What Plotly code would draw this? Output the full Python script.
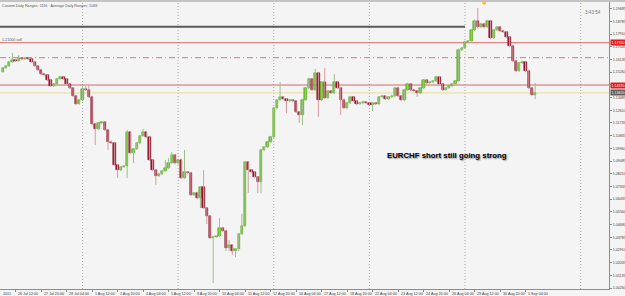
import plotly.graph_objects as go

# ---------------- data (EURCHF, H4 bars; bar 0 = Mon 25 Jul 2011 00:00) ----------------
bar_index = list(range(5, 173))

opens = [
    1.1528, 1.1555, 1.1569, 1.1597, 1.1611, 1.1604, 1.1625, 1.1618, 1.1625, 1.1618,
    1.1597, 1.1569, 1.1542, 1.1514, 1.1507, 1.1472, 1.1430, 1.1444, 1.1479, 1.1493,
    1.1479, 1.1444, 1.1416, 1.1361, 1.1305, 1.1333, 1.1409, 1.1403, 1.1354, 1.1166,
    1.1131, 1.1173, 1.1180, 1.1124, 1.1041, 1.1034, 1.0881, 1.0846, 1.0867, 1.0874,
    1.1111, 1.0965, 1.0992, 1.1034, 1.1083, 1.1111, 1.1076, 1.0916, 1.0846, 1.0805,
    1.0819, 1.0840, 1.0860, 1.0895, 1.0951, 1.0895, 1.0916, 1.0791, 1.0833, 1.0826,
    1.0673, 1.0687, 1.0652, 1.0728, 1.0582, 1.0527, 1.0374, 1.0381, 1.0388, 1.0443,
    1.0422, 1.0304, 1.0325, 1.0284, 1.0297, 1.0402, 1.0457, 1.0902, 1.0846, 1.0833,
    1.0798, 1.0763, 1.0985, 1.1006, 1.1041, 1.1076, 1.1277, 1.1333, 1.1354, 1.1340,
    1.1326, 1.1333, 1.1326, 1.1250, 1.1229, 1.1333, 1.1416, 1.1479, 1.1403, 1.1521,
    1.1333, 1.1458, 1.1347, 1.1396, 1.1382, 1.1458, 1.1416, 1.1333, 1.1277, 1.1312,
    1.1354, 1.1326, 1.1305, 1.1312, 1.1319, 1.1312, 1.1298, 1.1312, 1.1305, 1.1354,
    1.1361, 1.1340, 1.1354, 1.1361, 1.1416, 1.1361, 1.1333, 1.1403, 1.1444, 1.1403,
    1.1396, 1.1382, 1.1416, 1.1472, 1.1451, 1.1458, 1.1465, 1.1493, 1.1444, 1.1403,
    1.1416, 1.1430, 1.1444, 1.1465, 1.1681, 1.1694, 1.1736, 1.1743, 1.1820, 1.1882,
    1.1840, 1.1861, 1.1840, 1.1882, 1.1764, 1.1820, 1.1840, 1.1813, 1.1806, 1.1771,
    1.1708, 1.1604, 1.1535, 1.1590, 1.1597, 1.1535, 1.1416, 1.1368,
]

closes = [
    1.1555, 1.1569, 1.1597, 1.1611, 1.1604, 1.1625, 1.1618, 1.1625, 1.1618, 1.1597,
    1.1569, 1.1542, 1.1514, 1.1507, 1.1472, 1.1430, 1.1444, 1.1479, 1.1493, 1.1479,
    1.1444, 1.1416, 1.1361, 1.1305, 1.1333, 1.1409, 1.1403, 1.1354, 1.1166, 1.1131,
    1.1173, 1.1180, 1.1124, 1.1041, 1.1034, 1.0881, 1.0846, 1.0867, 1.0874, 1.1111,
    1.0965, 1.0992, 1.1034, 1.1083, 1.1111, 1.1076, 1.0916, 1.0846, 1.0805, 1.0819,
    1.0840, 1.0860, 1.0895, 1.0951, 1.0895, 1.0916, 1.0791, 1.0833, 1.0826, 1.0673,
    1.0687, 1.0652, 1.0728, 1.0582, 1.0527, 1.0374, 1.0381, 1.0388, 1.0443, 1.0422,
    1.0304, 1.0325, 1.0284, 1.0297, 1.0402, 1.0457, 1.0902, 1.0846, 1.0833, 1.0798,
    1.0763, 1.0985, 1.1006, 1.1041, 1.1076, 1.1277, 1.1333, 1.1354, 1.1340, 1.1326,
    1.1333, 1.1326, 1.1250, 1.1229, 1.1333, 1.1416, 1.1479, 1.1403, 1.1521, 1.1333,
    1.1458, 1.1347, 1.1396, 1.1382, 1.1458, 1.1416, 1.1333, 1.1277, 1.1312, 1.1354,
    1.1326, 1.1305, 1.1312, 1.1319, 1.1312, 1.1298, 1.1312, 1.1305, 1.1354, 1.1361,
    1.1340, 1.1354, 1.1361, 1.1416, 1.1361, 1.1333, 1.1403, 1.1444, 1.1403, 1.1396,
    1.1382, 1.1416, 1.1472, 1.1451, 1.1458, 1.1465, 1.1493, 1.1444, 1.1403, 1.1416,
    1.1430, 1.1444, 1.1465, 1.1681, 1.1694, 1.1736, 1.1743, 1.1820, 1.1882, 1.1840,
    1.1861, 1.1840, 1.1882, 1.1764, 1.1820, 1.1840, 1.1813, 1.1806, 1.1771, 1.1708,
    1.1604, 1.1535, 1.1590, 1.1597, 1.1535, 1.1416, 1.1368, 1.1382,
]

# wick lengths beyond the body, in pips
upper_wick_pips = [
    5, 7, 6, 49, 8, 21, 5, 6, 7, 5,
    6, 8, 5, 7, 6, 9, 5, 6, 8, 6,
    7, 5, 6, 8, 6, 28, 21, 35, 7, 6,
    8, 6, 5, 7, 9, 6, 8, 5, 6, 14,
    6, 7, 9, 5, 21, 6, 8, 5, 7, 6,
    8, 56, 35, 21, 7, 6, 9, 154, 6, 7,
    5, 8, 6, 118, 7, 6, 9, 5, 70, 6,
    8, 35, 6, 7, 5, 84, 6, 8, 7, 6,
    5, 9, 6, 7, 8, 6, 5, 104, 7, 6,
    8, 6, 5, 7, 9, 6, 8, 6, 28, 7,
    6, 97, 8, 5, 56, 7, 6, 9, 5, 8,
    6, 7, 5, 8, 6, 9, 7, 5, 6, 8,
    7, 6, 9, 5, 8, 6, 7, 9, 6, 5,
    8, 6, 7, 5, 9, 6, 8, 7, 6, 5,
    8, 6, 7, 10, 6, 8, 5, 7, 9, 90,
    7, 6, 8, 5, 9, 6, 7, 8, 5, 6,
    8, 7, 6, 9, 5, 8, 6, 70,
]

lower_wick_pips = [
    6, 5, 8, 6, 7, 5, 9, 6, 8, 5,
    7, 6, 8, 5, 9, 6, 7, 8, 5, 6,
    8, 7, 6, 9, 5, 8, 6, 7, 9, 111,
    6, 8, 5, 56, 7, 6, 56, 8, 5, 84,
    7, 70, 6, 8, 5, 9, 6, 7, 63, 6,
    8, 5, 7, 6, 9, 8, 6, 5, 7, 8,
    6, 9, 70, 5, 56, 7, 313, 6, 8, 5,
    21, 21, 28, 42, 14, 7, 6, 160, 8, 5,
    77, 77, 6, 8, 5, 7, 9, 6, 8, 84,
    7, 6, 8, 56, 70, 5, 8, 6, 7, 118,
    6, 8, 5, 7, 9, 6, 104, 8, 5, 7,
    6, 9, 5, 8, 7, 6, 42, 8, 5, 6,
    8, 7, 6, 9, 5, 8, 6, 7, 9, 5,
    28, 7, 6, 8, 5, 9, 6, 7, 8, 6,
    5, 8, 7, 6, 9, 5, 8, 6, 7, 8,
    6, 9, 5, 8, 7, 6, 8, 5, 9, 6,
    7, 8, 6, 5, 9, 7, 6, 28,
]

x_tick_bars = [9, 17, 25, 33, 41, 49, 57, 65, 73, 81, 89, 97, 105, 113, 121,
               129, 137, 145, 153, 161, 169]
x_tick_labels = ["26 Jul 12:00", "27 Jul 20:00", "29 Jul 04:00",
                 "1 Aug 12:00", "2 Aug 20:00", "4 Aug 04:00", "5 Aug 12:00",
                 "8 Aug 20:00", "10 Aug 04:00", "11 Aug 12:00", "12 Aug 20:00",
                 "16 Aug 04:00", "17 Aug 12:00", "18 Aug 20:00", "22 Aug 04:00",
                 "23 Aug 12:00", "24 Aug 20:00", "26 Aug 04:00", "29 Aug 12:00",
                 "30 Aug 20:00", "1 Sep 04:00"]
first_label_text = "2011"   # visible tail of the first date label ("25 Jul 2011")

y_tick_values = [1.00260, 1.01135, 1.02035, 1.02910, 1.03785, 1.04680, 1.05560,
                 1.06435, 1.07335, 1.08210, 1.09085, 1.09960, 1.10835, 1.11735,
                 1.12610, 1.13485, 1.14385, 1.15260, 1.16135, 1.17035, 1.17910,
                 1.18785, 1.19685]

week_separator_bars = [30, 60, 90, 120, 150]
extra_vline_bar = 186.3

resistance_level = 1.1842      # dark grey line, ends at week of 29 Aug
resistance_end_bar = 150
sell_level = 1.1731
mid_level = 1.1627
support_level = 1.1437
bid_level = closes[-1]
signal_bar = 156
signal_price = 1.2009

x_range = [4.118, 195.18]
y_range = [1.00194, 1.20141]

# ---------------- build figure ----------------
BULL_BODY, BULL_EDGE, BULL_WICK = "#74c92c", "#4f9a1c", "#9cc08a"
BEAR_BODY, BEAR_EDGE, BEAR_WICK = "#9c1026", "#7a0c1c", "#d59aa4"

highs, lows = [], []
for o, c, u, l in zip(opens, closes, upper_wick_pips, lower_wick_pips):
    highs.append(max(o, c) + u / 10000.0)
    lows.append(min(o, c) - l / 10000.0)

fig = go.Figure()

for bull in (True, False):
    wx, wy = [], []
    bx, bbase, bh = [], [], []
    for k, o, c, h, l in zip(bar_index, opens, closes, highs, lows):
        if (c >= o) != bull:
            continue
        wx += [k, k, None]
        wy += [l, h, None]
        lo_b, hi_b = min(o, c), max(o, c)
        if hi_b - lo_b < 0.0003:
            mid = (hi_b + lo_b) / 2
            lo_b, hi_b = mid - 0.00015, mid + 0.00015
        bx.append(k)
        bbase.append(lo_b)
        bh.append(hi_b - lo_b)
    fig.add_trace(go.Scatter(x=wx, y=wy, mode="lines",
                             line=dict(color=BULL_WICK if bull else BEAR_WICK, width=1),
                             hoverinfo="skip"))
    fig.add_trace(go.Bar(x=bx, y=bh, base=bbase, width=0.72,
                         marker=dict(color=BULL_BODY if bull else BEAR_BODY,
                                     line=dict(color=BULL_EDGE if bull else BEAR_EDGE, width=0.5))))

fig.add_trace(go.Scatter(x=[signal_bar], y=[signal_price], mode="markers",
                         marker=dict(symbol="circle", size=4, color="#f2c040"),
                         cliponaxis=False, hoverinfo="skip"))

shapes = []
for b in week_separator_bars + [extra_vline_bar]:
    shapes.append(dict(type="line", xref="x", yref="paper", x0=b, x1=b, y0=0, y1=1,
                       line=dict(color="#a6a6a6", width=1, dash="1px,2px"), layer="below"))
shapes.append(dict(type="line", xref="x", yref="y", x0=x_range[0], x1=resistance_end_bar,
                   y0=resistance_level, y1=resistance_level,
                   line=dict(color="#5a5a5a", width=2)))
shapes.append(dict(type="line", xref="paper", yref="y", x0=0, x1=1, y0=sell_level, y1=sell_level,
                   line=dict(color="#d86868", width=1), layer="below"))
shapes.append(dict(type="line", xref="paper", yref="y", x0=0, x1=1, y0=mid_level, y1=mid_level,
                   line=dict(color="#d47a7a", width=1, dash="6px,3px,1px,3px"), layer="below"))
shapes.append(dict(type="line", xref="paper", yref="y", x0=0, x1=1, y0=support_level, y1=support_level,
                   line=dict(color="#d86868", width=1), layer="below"))
shapes.append(dict(type="line", xref="paper", yref="y", x0=0, x1=1, y0=bid_level, y1=bid_level,
                   line=dict(color="#e9dc98", width=1), layer="below"))
# top window border strip
shapes.append(dict(type="rect", xref="paper", yref="paper", x0=-0.01, x1=1.05, y0=1.0, y1=1.02,
                   fillcolor="#c4c4c4", line=dict(width=0)))

LBL = dict(family="Liberation Sans, Arial, sans-serif", size=3.7, color="#3c3c3c")
YLBL = dict(family="Liberation Sans, Arial, sans-serif", size=3.6, color="#3c3c3c")
annotations = []
annotations.append(dict(x=0, xref="paper", y=0, yref="paper", text=first_label_text,
                        showarrow=False, xanchor="left", yanchor="top", yshift=-1.2, xshift=1,
                        font=LBL))
for b, t in zip(x_tick_bars, x_tick_labels):
    annotations.append(dict(x=b, xref="x", y=0, yref="paper", text=t, showarrow=False,
                            xanchor="left", yanchor="top", yshift=-1.2, xshift=0.5, font=LBL))

for lvl, col in ((sell_level, "#e01c1c"), (support_level, "#e01c1c"), (bid_level, "#5c5c5c")):
    annotations.append(dict(x=1, xref="paper", y=lvl, yref="y", text="%.5f" % lvl,
                            showarrow=False, xanchor="left", yanchor="middle", xshift=0.5,
                            bgcolor=col, borderpad=0.6,
                            font=dict(family="Liberation Sans, Arial", size=3.6, color="white")))

annotations.append(dict(x=0, xref="paper", y=1, yref="paper",
                        text="Custom Daily Ranges: 1116&nbsp;&nbsp;&nbsp;Average Daily Ranges: 1069",
                        showarrow=False, xanchor="left", yanchor="top", xshift=0, yshift=0,
                        font=dict(family="Liberation Sans, Arial", size=3.7, color="#555")))
annotations.append(dict(x=0, xref="paper", y=sell_level, yref="y", text="1.21000 sell",
                        showarrow=False, xanchor="left", yanchor="bottom", xshift=0, yshift=-1,
                        font=dict(family="Liberation Sans, Arial", size=3.7, color="#555")))
annotations.append(dict(x=0.974, xref="paper", y=0.963, yref="paper", text="3:43:54",
                        showarrow=False, xanchor="center", yanchor="middle",
                        font=dict(family="Liberation Sans, Arial", size=4.6, color="#777")))
annotations.append(dict(x=144.5, xref="x", y=1.0944, yref="y",
                        text="<b>EURCHF short still going strong</b>", showarrow=False,
                        xanchor="center", yanchor="middle",
                        font=dict(family="Liberation Sans, Arial", size=7.8, color="#000000",
                                  shadow="1px 1px 1.5px #8a8a8a")))

fig.update_layout(
    width=625, height=296, autosize=False,
    margin=dict(l=0, r=16, t=2, b=7, pad=0),
    paper_bgcolor="#f4f4f4", plot_bgcolor="#f4f4f4",
    showlegend=False, barmode="overlay", bargap=0,
    shapes=shapes, annotations=annotations,
    font=dict(family="Liberation Sans, Arial, sans-serif", size=3.7, color="#3c3c3c"),
)
fig.update_xaxes(range=x_range, showgrid=False, zeroline=False, showline=True,
                 linecolor="#8c8c8c", linewidth=1, tickmode="array",
                 tickvals=x_tick_bars,
                 ticks="outside", ticklen=2, tickcolor="#8c8c8c", showticklabels=False,
                 fixedrange=True)
fig.update_yaxes(side="right", range=y_range, showgrid=False, zeroline=False, showline=True,
                 linecolor="#8c8c8c", linewidth=1, tickmode="array", tickvals=y_tick_values,
                 ticktext=["%.5f" % v for v in y_tick_values], ticks="outside", ticklen=2,
                 tickcolor="#8c8c8c", tickfont=YLBL, automargin=False, fixedrange=True)

fig.write_html("out.html")
